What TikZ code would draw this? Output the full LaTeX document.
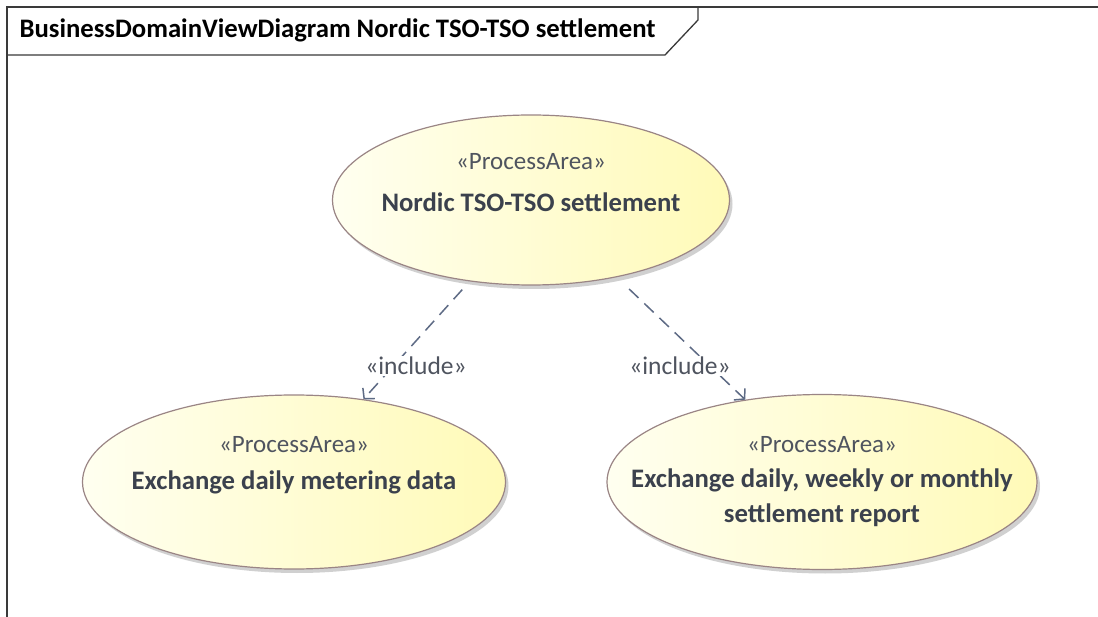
\documentclass[tikz,border=0pt]{standalone}
\usepackage{fontspec}
\setmainfont{Carlito}
\usetikzlibrary{shapes.geometric, shadows, arrows.meta}

\definecolor{framegray}{HTML}{3A3A3A}
\definecolor{edgebrown}{HTML}{9A8585}
\definecolor{textslate}{HTML}{3B414D}
\definecolor{linkslate}{HTML}{5E6B85}
\definecolor{fillpale}{HTML}{FFFFF0}
\definecolor{fillyellow}{HTML}{FFFAB8}

\tikzset{
	area/.style = {ellipse, draw = edgebrown, line width = 1.2pt, left color = fillpale, right color = fillyellow,
		drop shadow = {shadow xshift = 3pt, shadow yshift = -4pt, fill = black!30, opacity = 0.6}},
	stereo/.style = {font = \fontsize{25}{30}\selectfont, text = textslate!90},
	areaname/.style = {font = \fontsize{26.7}{35}\selectfont\bfseries, text = textslate, align = center},
	include/.style = {draw = linkslate, line width = 1.5pt, dash pattern = on 13pt off 8pt,
		-{Straight Barb[length = 7pt, width = 16pt]}},
	incllabel/.style = {fill = white, inner sep = 1pt, font = \fontsize{25.5}{30}\selectfont, text = textslate!90}
}

\begin{document}
\begin{tikzpicture}[x = 1pt, y = -1pt]
		\useasboundingbox[fill = white] (0, 0) rectangle (1098, 617);
		
		% frame and its name tab
		\draw[framegray, line width = 1.3pt] (1098, 7) -- (7, 7) -- (7, 617);
		\draw[framegray, line width = 1.3pt] (698, 7) -- (698, 20) -- (665, 55) -- (7, 55);
		\node[anchor = west, font = \fontsize{26.7}{32}\selectfont\bfseries, text = black] (title) at (16, 30) {BusinessDomainViewDiagram Nordic TSO-TSO settlement};
		
		% process areas
		\node[area, minimum width = 397pt, minimum height = 170pt] (settle) at (531, 200) {};
		\node[area, minimum width = 423pt, minimum height = 174pt] (metering) at (294, 482) {};
		\node[area, minimum width = 430pt, minimum height = 175pt] (report) at (822, 482) {};
		
		\node[stereo] (settleST) at ([yshift = 38]settle.center) {«ProcessArea»};
		\node[areaname] (settleNM) at ([yshift = -2]settle.center) {Nordic TSO-TSO settlement};
		
		\node[stereo] (meteringST) at ([yshift = 37]metering.center) {«ProcessArea»};
		\node[areaname] (meteringNM) at (metering.center) {Exchange daily metering data};
		
		\node[stereo] (reportST) at ([yshift = 37]report.center) {«ProcessArea»};
		\node[areaname] (reportNM) at ([yshift = -15.5]report.center) {Exchange daily, weekly or monthly\\settlement report};
		
		% include links
		\draw[include, shorten <= 11pt] (settle.233) -- (metering.50);
		\draw[include, shorten <= 17pt] (settle.318) -- (report.133);
		
		\node[incllabel] (inclA) at (416, 366) {«include»};
		\node[incllabel] (inclB) at (680, 366) {«include»};
	\end{tikzpicture}
\end{document}
